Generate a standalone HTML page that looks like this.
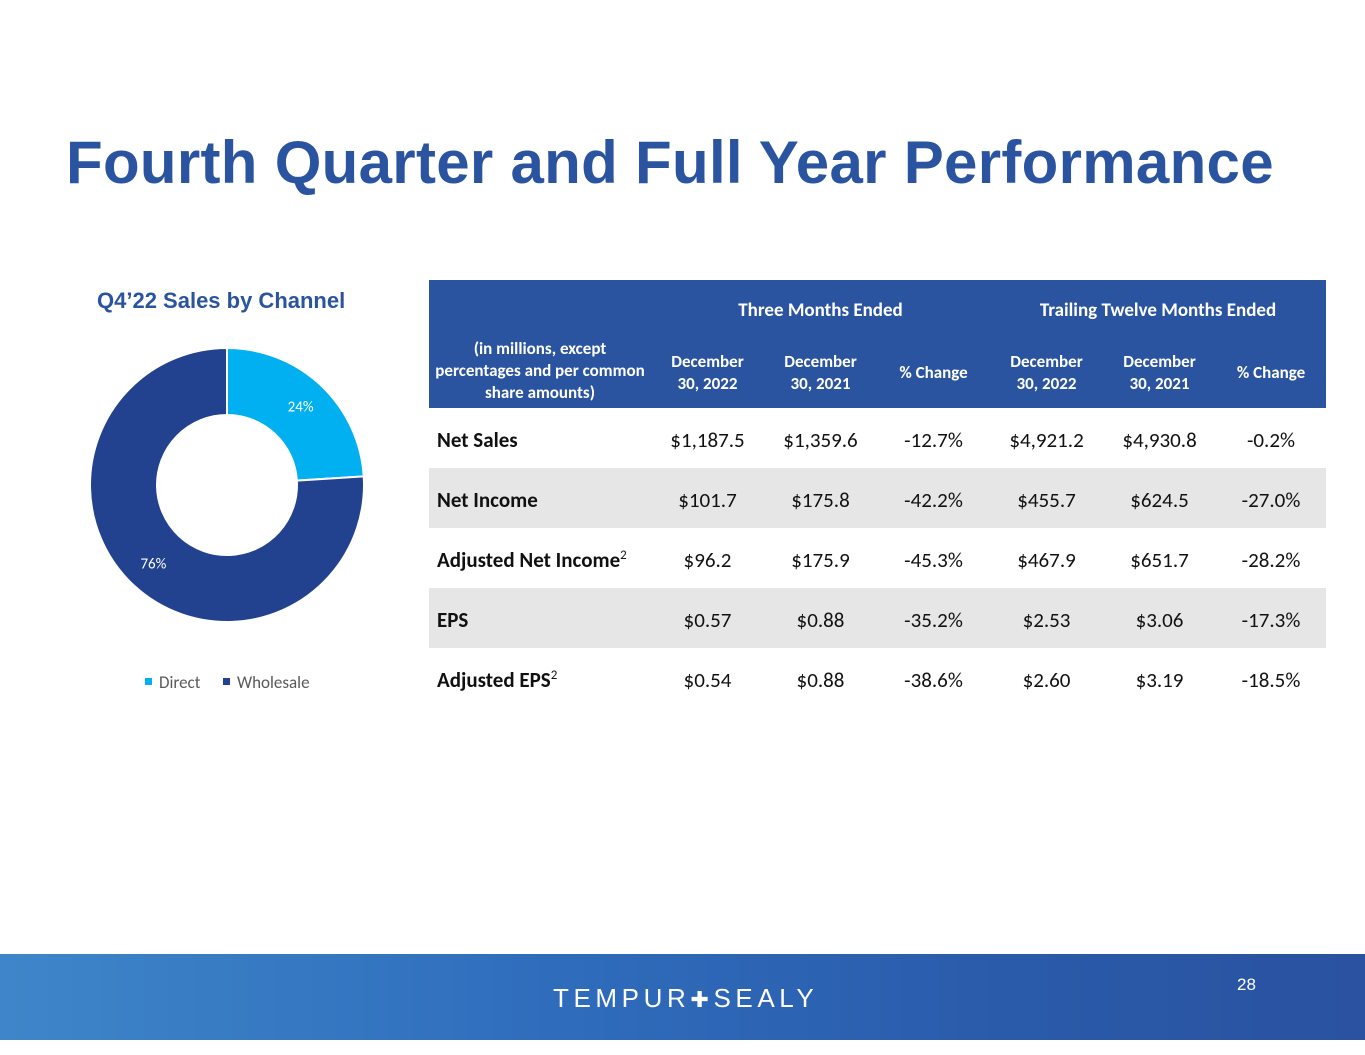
<!DOCTYPE html>
<html><head><meta charset="utf-8">
<style>
body{margin:0;width:1365px;height:1055px;background:#fff;position:relative;overflow:hidden;font-family:"Liberation Sans",sans-serif}
#title{position:absolute;left:66px;top:128px;font-size:60px;font-weight:bold;color:#2b54a0;white-space:nowrap;letter-spacing:0.3px}
#ctitle{position:absolute;left:97px;top:288px;font-size:22px;font-weight:bold;color:#2b54a0}
table{position:absolute;left:429px;top:280px;width:897px;border-collapse:collapse;font-family:"Carlito","Liberation Sans",sans-serif;table-layout:fixed}
td{padding:0;text-align:center;font-size:21px;color:#111}
thead td{background:#2b54a0;color:#fff;font-weight:bold;font-size:17px;line-height:22px}
tbody td{height:60px;padding-top:3px;box-sizing:border-box}
tbody tr:nth-child(2n) td{background:#e6e6e6}
td.l{text-align:left;padding-left:8px;font-weight:bold}
#footer{position:absolute;left:0;top:954px;width:1365px;height:86px;background:linear-gradient(90deg,#3e86c9 0%,#2f6dbc 40%,#2a5aaa 75%,#2a52a0 100%)}
#logo{position:absolute;left:553px;top:983px;font-size:26px;color:#fff;letter-spacing:4.6px}
#pg{position:absolute;left:1237px;top:975px;color:#fff;font-size:17px}
</style></head><body>
<div id="title">Fourth Quarter and Full Year Performance</div>
<div id="ctitle">Q4’22 Sales by Channel</div>
<svg id="donut" width="420" height="420" style="position:absolute;left:0;top:300px"></svg>
<table>
<colgroup><col style="width:222px"><col style="width:113px"><col style="width:113px"><col style="width:113px"><col style="width:113px"><col style="width:113px"><col></colgroup>
<thead>
<tr><td style="height:58px"></td><td colspan="3" style="font-size:19px;padding-top:4px">Three Months Ended</td><td colspan="3" style="font-size:19px;padding-top:4px">Trailing Twelve Months Ended</td></tr>
<tr><td style="height:70px;vertical-align:top;padding:0 6px">(in millions, except percentages and per common share amounts)</td><td>December<br>30, 2022</td><td>December<br>30, 2021</td><td>% Change</td><td>December<br>30, 2022</td><td>December<br>30, 2021</td><td>% Change</td></tr>
</thead>
<tbody>
<tr><td class="l">Net Sales</td><td>$1,187.5</td><td>$1,359.6</td><td>-12.7%</td><td>$4,921.2</td><td>$4,930.8</td><td>-0.2%</td></tr>
<tr><td class="l">Net Income</td><td>$101.7</td><td>$175.8</td><td>-42.2%</td><td>$455.7</td><td>$624.5</td><td>-27.0%</td></tr>
<tr><td class="l">Adjusted Net Income<sup style="font-weight:normal;font-size:13px">2</sup></td><td>$96.2</td><td>$175.9</td><td>-45.3%</td><td>$467.9</td><td>$651.7</td><td>-28.2%</td></tr>
<tr><td class="l">EPS</td><td>$0.57</td><td>$0.88</td><td>-35.2%</td><td>$2.53</td><td>$3.06</td><td>-17.3%</td></tr>
<tr><td class="l">Adjusted EPS<sup style="font-weight:normal;font-size:13px">2</sup></td><td>$0.54</td><td>$0.88</td><td>-38.6%</td><td>$2.60</td><td>$3.19</td><td>-18.5%</td></tr>
</tbody></table>
<div id="footer"></div>
<div id="logo">TEMPUR<span style="font-size:22px">✚</span>SEALY</div>
<div id="pg">28</div>
<script>
const categories=["Direct","Wholesale"];
const values=[24,76];
const colors=["#00b0f0","#22428f"];
const svg=document.getElementById('donut');
const NS="http://www.w3.org/2000/svg";
const cx=227,cy=185,R=137,r=70;
const total=values.reduce((a,b)=>a+b,0);
let a0=-Math.PI/2;
function pt(rad,a){return [cx+rad*Math.cos(a),cy+rad*Math.sin(a)];}
values.forEach((v,i)=>{
  const a1=a0+v/total*2*Math.PI;
  const large=(a1-a0)>Math.PI?1:0;
  const p1=pt(R,a0),p2=pt(R,a1),p3=pt(r,a1),p4=pt(r,a0);
  const p=document.createElementNS(NS,'path');
  p.setAttribute('d',`M${p1}A${R},${R} 0 ${large} 1 ${p2}L${p3}A${r},${r} 0 ${large} 0 ${p4}Z`);
  p.setAttribute('fill',colors[i]);p.setAttribute('stroke','#fff');p.setAttribute('stroke-width','2');
  
  
  svg.appendChild(p);
  const mid=(a0+a1)/2,lp=pt((R+r)/2+4,mid);
  const t=document.createElementNS(NS,'text');
  t.setAttribute('x',lp[0]);t.setAttribute('y',lp[1]+5);t.setAttribute('text-anchor','middle');
  t.setAttribute('font-size','15');t.setAttribute('fill','#fff');
  t.setAttribute('font-family','Carlito, Liberation Sans, sans-serif');
  t.textContent=v+'%';
  
  
  svg.appendChild(t);
  a0=a1;
});
const lx=[145,223];
categories.forEach((c,i)=>{
  const g=document.createElementNS(NS,'g');
  
  
  const s=document.createElementNS(NS,'rect');
  s.setAttribute('x',lx[i]);s.setAttribute('y',378);s.setAttribute('width',7);s.setAttribute('height',7);s.setAttribute('fill',colors[i]);
  const t=document.createElementNS(NS,'text');
  t.setAttribute('x',lx[i]+14);t.setAttribute('y',388);t.setAttribute('font-size','17');t.setAttribute('fill','#595959');
  t.setAttribute('font-family','Carlito, Liberation Sans, sans-serif');
  t.textContent=c;
  g.appendChild(s);g.appendChild(t);svg.appendChild(g);
});
</script>
</body></html>
